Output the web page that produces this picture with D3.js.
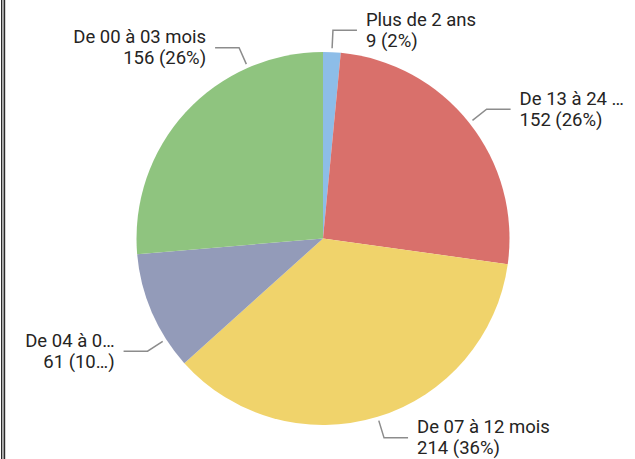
<!DOCTYPE html>
<html>
<head>
<meta charset="utf-8">
<script src="https://cdn.jsdelivr.net/npm/d3@7"></script>
<style>
  body { margin: 0; background: #fff; }
  svg text { font-family: Roboto, "DejaVu Sans Condensed", sans-serif; font-weight: 400; }
</style>
</head>
<body>
<div id="d3-container"></div>
<script>
/**
 * DATA
 * */
const categories = ["Plus de 2 ans", "De 13 à 24 mois", "De 07 à 12 mois", "De 04 à 06 mois", "De 00 à 03 mois"];
const shownNames = ["Plus de 2 ans", "De 13 à 24 …", "De 07 à 12 mois", "De 04 à 0…", "De 00 à 03 mois"];
const values = [9, 152, 214, 61, 156];
const shownValues = ["9 (2%)", "152 (26%)", "214 (36%)", "61 (10…)", "156 (26%)"];
const colors = ["#8dbde8", "#d9706b", "#f0d36b", "#939bb9", "#8fc47f"];

/**
 * CONSTANTS
 * */
const width = 635, height = 459;
const cx = 323, cy = 238.5, radius = 186.5;
// label angle nudges (degrees) to keep labels apart, like the original
const nudge = [0, 0, 0, -9.3, 23.7];

const svg = d3.select("#d3-container")
  .append("svg")
  .attr("width", width)
  .attr("height", height);

// left frame (double line)
svg.append("rect").attr("x", 1).attr("y", 0).attr("width", 1.2).attr("height", height).attr("fill", "#2b2b2b");
svg.append("rect").attr("x", 2.2).attr("y", 0).attr("width", 1.6).attr("height", height).attr("fill", "#a8a8a8");
svg.append("rect").attr("x", 3.8).attr("y", 0).attr("width", 1.4).attr("height", height).attr("fill", "#2b2b2b");

const pie = d3.pie().sort(null).value(d => d.value);
const arc = d3.arc().innerRadius(0).outerRadius(radius);

const data = categories.map((c, i) => ({ name: c, value: values[i], i }));
const arcs = pie(data);

const g = svg.append("g").attr("transform", `translate(${cx},${cy})`);

g.selectAll("path")
  .data(arcs)
  .join("path")
  .attr("d", arc)
  .attr("fill", d => colors[d.data.i]);

// labels with leader lines
const pt = (a, r) => [r * Math.sin(a), -r * Math.cos(a)];

arcs.forEach(d => {
  const i = d.data.i;
  const a = (d.startAngle + d.endAngle) / 2 + nudge[i] * Math.PI / 180;
  const p0 = pt(a, radius + 4);
  const p1 = pt(a, radius + 22);
  const right = Math.sin(a) >= 0;
  const p2 = [p1[0] + (right ? 24 : -24), p1[1]];

  g.append("polyline")
    .attr("points", [p0, p1, p2].map(p => p.join(",")).join(" "))
    .attr("fill", "none")
    .attr("stroke", "#8c8c8c")
    .attr("stroke-width", 1.5);

  const tx = p2[0] + (right ? 9 : -9);
  const t = g.append("text")
    .attr("text-anchor", right ? "start" : "end")
    .attr("font-size", 18.5)
    .attr("fill", "#252423");
  t.append("tspan").attr("x", tx).attr("y", p1[1] - 4.5).text(shownNames[i]);
  t.append("tspan").attr("x", tx).attr("y", p1[1] + 16.5).text(shownValues[i]);
});
</script>
</body>
</html>
